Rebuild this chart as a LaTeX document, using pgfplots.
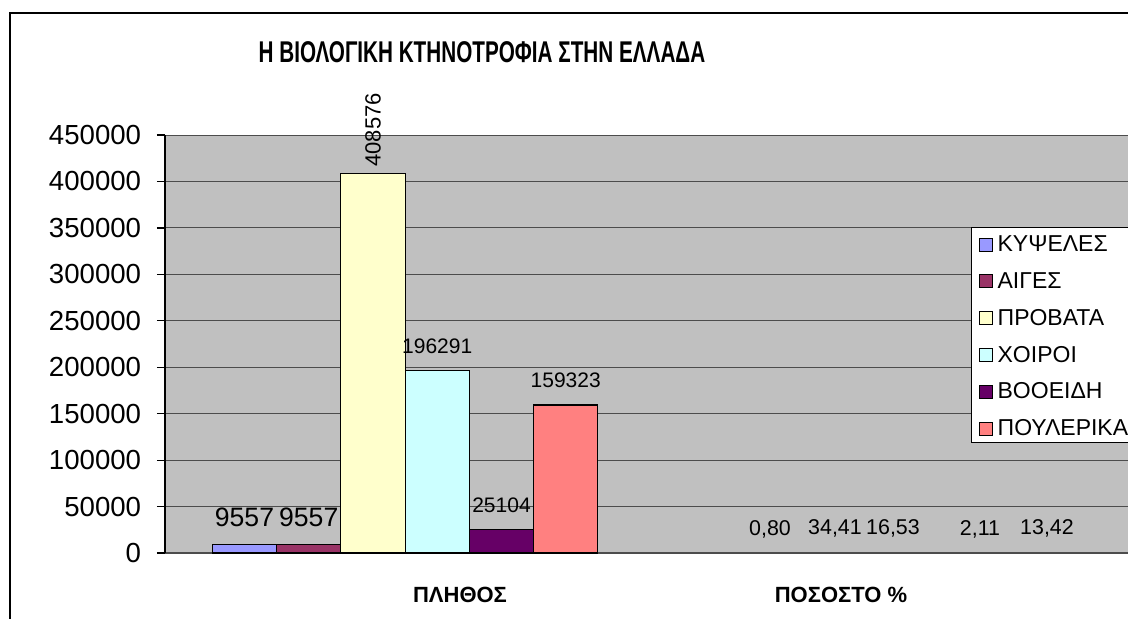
\documentclass[border=0pt]{standalone}
\usepackage{fontspec}
\setmainfont{Liberation Sans}
\usepackage{graphicx}
\usepackage{pgfplots}
\pgfplotsset{compat=1.18}
\definecolor{cKY}{HTML}{9999FF}
\definecolor{cAI}{HTML}{993366}
\definecolor{cPR}{HTML}{FFFFCC}
\definecolor{cXO}{HTML}{CCFFFF}
\definecolor{cBO}{HTML}{660066}
\definecolor{cPO}{HTML}{FF8080}
\definecolor{plotbg}{HTML}{C0C0C0}
\pgfplotsset{
  mybar/.style={ybar, bar width=64.25, bar shift=0pt, draw=black, line width=0.6pt, fill=#1},
  lblint/.style={nodes near coords={\pgfmathprintnumber[fixed,precision=0,1000 sep={},assume math mode=true]{\pgfplotspointmeta}},
     every node near coord/.style={font=#1, anchor=base, inner sep=0pt, yshift=8.75pt, text=black, draw=none, fill=none}},
  lblrot/.style={nodes near coords={\pgfmathprintnumber[fixed,precision=0,1000 sep={},assume math mode=true]{\pgfplotspointmeta}},
     every node near coord/.style={font=#1, inner sep=0pt, yshift=3.2pt, rotate=90, anchor=west, text=black, draw=none, fill=none}},
  lblpct/.style={nodes near coords={\pgfmathprintnumber[fixed,fixed zerofill,precision=2,use comma,assume math mode=true]{\pgfplotspointmeta}},
     every node near coord/.style={font=\fontsize{10.7}{12}\selectfont, anchor=base, inner sep=0pt, yshift=9pt, text=black, draw=none, fill=none}},
}
\begin{document}
\begin{tikzpicture}
\begin{axis}[
  scale only axis,
  width=487.5pt, height=209pt,
  xmin=165, xmax=1140,
  ymin=0, ymax=450000,
  clip=false,
  axis background/.style={fill=plotbg},
  axis lines=left,
  axis line style={-},
  x axis line style={draw=black!70, line width=0.6pt},
  y axis line style={draw=black, line width=0.6pt},
  ytick={0,50000,100000,150000,200000,250000,300000,350000,400000,450000},
  scaled y ticks=false,
  tick align=outside,
  major tick length=4pt,
  y tick style={draw=black, line width=0.6pt},
  yticklabel style={font=\fontsize{13.8}{15}\selectfont, /pgf/number format/fixed, /pgf/number format/1000 sep={}, /pgf/number format/assume math mode=true, anchor=east, inner sep=0pt, xshift=-7.75pt},
  xtick={460,841},
  xticklabels={ΠΛΗΘΟΣ, ΠΟΣΟΣΤΟ \%},
  x tick style={draw=none},
  xticklabel style={font=\bfseries\fontsize{11}{12}\selectfont, anchor=base, inner sep=0pt, yshift=-20.5pt},
  ymajorgrids,
  grid style={draw=black!70, line width=0.5pt},
  legend image code/.code={\draw[#1, draw=black, line width=0.5pt] (0pt,-4pt) rectangle (6.5pt,2.5pt);},
  legend cell align=left,
  legend style={at={(0.8267,0.7799)}, anchor=north west, draw=black, fill=white, line width=0.6pt,
     font=\fontsize{11.5}{12}\selectfont, inner sep=3.5pt, row sep=9.9pt, column sep=2.5pt,
     nodes={inner sep=0pt, text height=8.5pt, text depth=0pt}},
]
\coordinate (O) at (rel axis cs:0,0);
% ΠΛΗΘΟΣ
\addplot[mybar=cKY, lblint={\fontsize{13.3}{14}\selectfont}] coordinates {(244.5,9557)};
\addlegendentry{ΚΥΨΕΛΕΣ}
\addplot[mybar=cAI, lblint={\fontsize{13.3}{14}\selectfont}] coordinates {(308.75,9557)};
\addlegendentry{ΑΙΓΕΣ}
\addplot[mybar=cPR, lblrot={\fontsize{11}{12}\selectfont}] coordinates {(373,408576)};
\addlegendentry{ΠΡΟΒΑΤΑ}
\addplot[mybar=cXO, lblint={\fontsize{10.5}{12}\selectfont}] coordinates {(437.25,196291)};
\addlegendentry{ΧΟΙΡΟΙ}
\addplot[mybar=cBO, lblint={\fontsize{10.5}{12}\selectfont}] coordinates {(501.5,25104)};
\addlegendentry{ΒΟΟΕΙΔΗ}
\addplot[mybar=cPO, lblint={\fontsize{10.5}{12}\selectfont}] coordinates {(565.75,159323)};
\addlegendentry{ΠΟΥΛΕΡΙΚΑ}
% ΠΟΣΟΣΤΟ %  (bars of near-zero height on this scale)
\addplot[mybar=cAI, draw=none, fill=none, lblpct, forget plot] coordinates {(770,0.80)};
\addplot[mybar=cPR, draw=none, fill=none, lblpct, forget plot] coordinates {(835,34.41)};
\addplot[mybar=cXO, draw=none, fill=none, lblpct, forget plot] coordinates {(893,16.53)};
\addplot[mybar=cBO, draw=none, fill=none, lblpct, forget plot] coordinates {(980,2.11)};
\addplot[mybar=cPO, draw=none, fill=none, lblpct, forget plot] coordinates {(1047,13.42)};
\end{axis}
\draw[black, line width=0.6pt] ([xshift=-77.5pt,yshift=-100pt]O) -- ++(0,370pt) -- ++(700pt,0);
\node[anchor=base, inner sep=0pt] at ([xshift=158.5pt,yshift=245.5pt]O)
  {\scalebox{0.69}[1]{\bfseries\fontsize{15}{17}\selectfont Η ΒΙΟΛΟΓΙΚΗ ΚΤΗΝΟΤΡΟΦΙΑ ΣΤΗΝ ΕΛΛΑΔΑ}};
\pgfresetboundingbox
\path[use as bounding box] ([xshift=-82.5pt,yshift=-32.5pt]O) rectangle ++(564pt,309pt);
\end{tikzpicture}
\end{document}
